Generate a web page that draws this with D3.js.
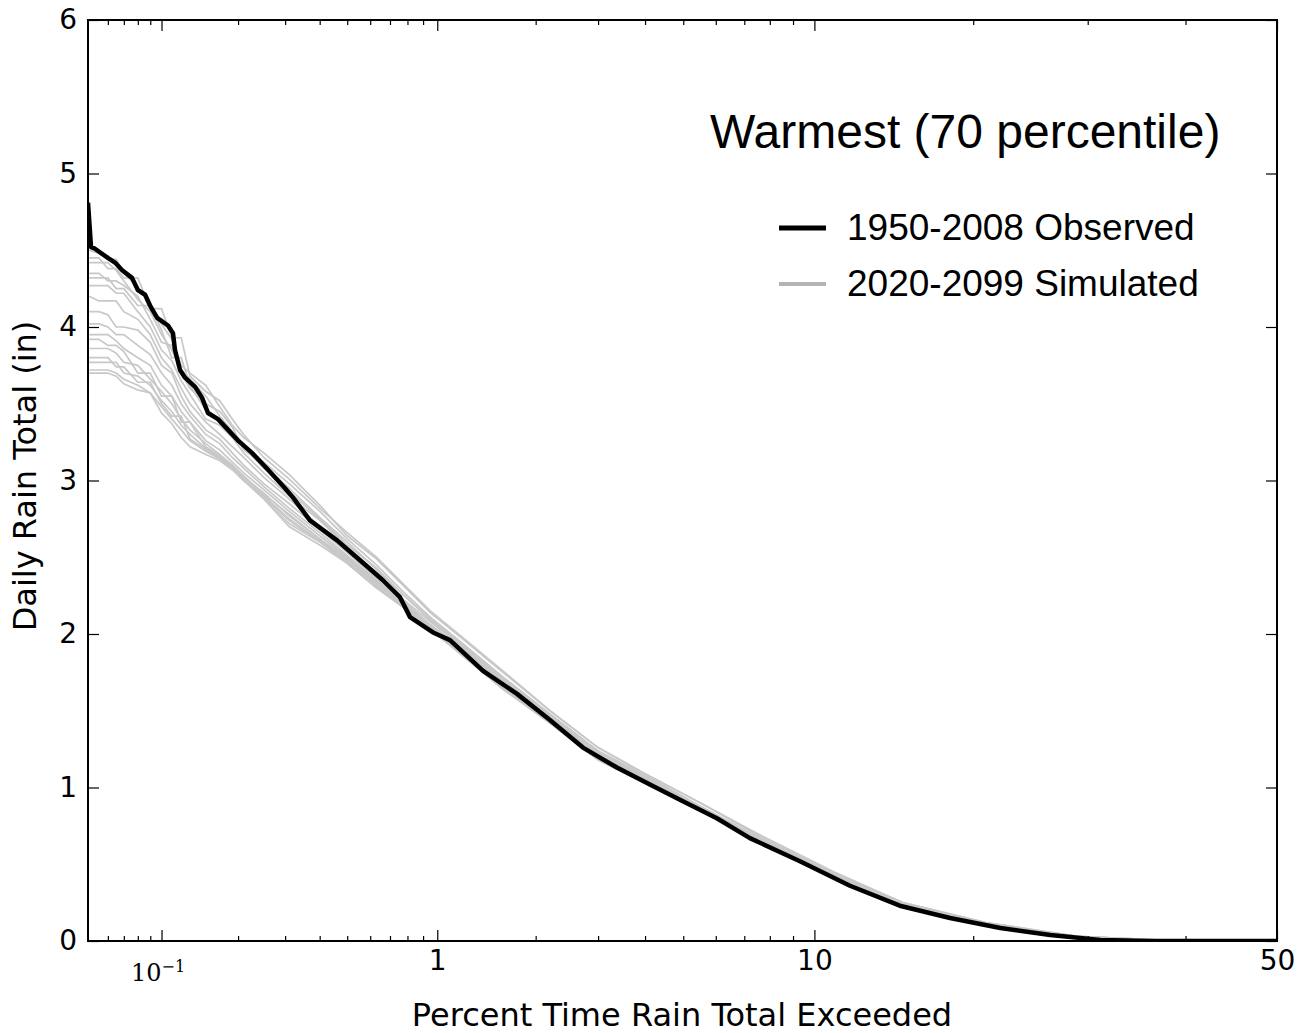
<!DOCTYPE html>
<html>
<head>
<meta charset="utf-8">
<script src="https://cdn.jsdelivr.net/npm/d3@7"></script>
<style>
  body { margin: 0; background: #fff; }
  svg { display: block; }
</style>
</head>
<body>
<svg id="chart"></svg>
<script>
const width = 1301, height = 1033;
const margin = { top: 20, right: 24, bottom: 92, left: 88 };

// observed 1950-2008 exceedance curve (percent exceeded, inches)
const obsPct = [0.0494, 0.0509, 0.0529, 0.0600, 0.0643, 0.0689, 0.0757, 0.0801, 0.0857, 0.0898,
  0.0960, 0.1062, 0.1112, 0.1133, 0.1187, 0.1243, 0.1362, 0.1450, 0.1531, 0.1675,
  0.1831, 0.1999, 0.2259, 0.2594, 0.2997, 0.3202, 0.3692, 0.4607, 0.5535, 0.6628,
  0.7557, 0.8159, 0.969, 1.098, 1.392, 1.763, 2.199, 2.725, 3.372, 4.117,
  4.989, 6.035, 7.211, 9.314, 11.84, 14.80, 18.25, 22.17, 26.50, 31.20, 36.27, 50];
const obsVal = [4.81, 4.52, 4.51, 4.45, 4.42, 4.37, 4.32, 4.24, 4.21, 4.14,
  4.06, 4.01, 3.96, 3.85, 3.72, 3.67, 3.61, 3.54, 3.44, 3.40,
  3.33, 3.26, 3.18, 3.07, 2.95, 2.89, 2.74, 2.61, 2.48, 2.35,
  2.24, 2.11, 2.01, 1.96, 1.76, 1.61, 1.44, 1.26, 1.13, 1.02,
  0.91, 0.80, 0.67, 0.52, 0.36, 0.23, 0.15, 0.085, 0.039, 0.007, 0, 0];

// simulated 2020-2099 runs, all sampled at the same percents
const simPct = [0.05, 0.055, 0.06, 0.065, 0.07, 0.08, 0.09, 0.1, 0.11, 0.12,
  0.13, 0.15, 0.17, 0.19, 0.21, 0.25, 0.31, 0.4, 0.5, 0.63,
  0.78, 0.95, 1.2, 1.6, 2.2, 3, 4, 5.5, 7.5, 11,
  15, 21, 29, 38, 50];
const simRuns = [
  [4.50, 4.48, 4.44, 4.44, 4.35, 4.26, 4.15, 4.02, 3.92, 3.75, 3.70, 3.62, 3.48, 3.36, 3.28, 3.18, 3.04, 2.84, 2.64, 2.49, 2.31, 2.14, 1.97, 1.75, 1.50, 1.26, 1.09, 0.90, 0.69, 0.44, 0.25, 0.12, 0.03, 0.004, 0],
  [4.45, 4.45, 4.38, 4.38, 4.32, 4.32, 4.12, 4.12, 3.93, 3.93, 3.68, 3.58, 3.52, 3.40, 3.30, 3.15, 3.01, 2.82, 2.66, 2.50, 2.32, 2.15, 1.98, 1.76, 1.50, 1.26, 1.09, 0.90, 0.70, 0.45, 0.25, 0.12, 0.03, 0.004, 0],
  [4.42, 4.42, 4.42, 4.37, 4.30, 4.18, 4.10, 3.95, 3.85, 3.72, 3.66, 3.55, 3.42, 3.32, 3.24, 3.12, 2.98, 2.80, 2.62, 2.45, 2.27, 2.11, 1.94, 1.72, 1.48, 1.24, 1.08, 0.88, 0.68, 0.43, 0.24, 0.11, 0.03, 0.004, 0],
  [4.35, 4.35, 4.30, 4.30, 4.27, 4.20, 4.05, 3.90, 3.88, 3.70, 3.60, 3.50, 3.45, 3.35, 3.20, 3.10, 2.95, 2.76, 2.60, 2.42, 2.25, 2.10, 1.93, 1.70, 1.46, 1.22, 1.06, 0.87, 0.67, 0.42, 0.23, 0.11, 0.025, 0.003, 0],
  [4.32, 4.32, 4.32, 4.25, 4.25, 4.14, 4.14, 3.98, 3.80, 3.80, 3.62, 3.46, 3.38, 3.30, 3.22, 3.08, 2.93, 2.75, 2.58, 2.43, 2.25, 2.09, 1.93, 1.71, 1.47, 1.23, 1.07, 0.87, 0.67, 0.43, 0.24, 0.11, 0.03, 0.004, 0],
  [4.27, 4.27, 4.27, 4.22, 4.22, 4.10, 4.00, 3.85, 3.78, 3.65, 3.56, 3.40, 3.36, 3.28, 3.18, 3.05, 2.90, 2.74, 2.57, 2.40, 2.22, 2.08, 1.92, 1.70, 1.45, 1.21, 1.06, 0.86, 0.66, 0.42, 0.23, 0.11, 0.025, 0.003, 0],
  [4.20, 4.17, 4.17, 4.17, 4.10, 4.05, 3.95, 3.80, 3.72, 3.60, 3.50, 3.38, 3.30, 3.22, 3.15, 3.02, 2.88, 2.70, 2.55, 2.38, 2.21, 2.06, 1.91, 1.69, 1.45, 1.21, 1.05, 0.86, 0.66, 0.42, 0.23, 0.11, 0.025, 0.003, 0],
  [4.10, 4.10, 4.08, 4.00, 4.00, 3.98, 3.90, 3.75, 3.70, 3.55, 3.45, 3.33, 3.27, 3.18, 3.10, 2.98, 2.85, 2.68, 2.53, 2.36, 2.20, 2.06, 1.90, 1.68, 1.44, 1.20, 1.05, 0.86, 0.66, 0.42, 0.23, 0.10, 0.02, 0.003, 0],
  [4.02, 4.02, 4.00, 3.95, 3.95, 3.88, 3.82, 3.70, 3.62, 3.50, 3.42, 3.30, 3.24, 3.15, 3.08, 2.96, 2.82, 2.66, 2.51, 2.35, 2.19, 2.05, 1.90, 1.68, 1.44, 1.20, 1.04, 0.86, 0.66, 0.42, 0.23, 0.10, 0.02, 0.003, 0],
  [3.95, 3.95, 3.95, 3.91, 3.86, 3.80, 3.75, 3.62, 3.55, 3.45, 3.38, 3.26, 3.20, 3.12, 3.05, 2.94, 2.80, 2.64, 2.50, 2.34, 2.19, 2.05, 1.89, 1.67, 1.44, 1.20, 1.04, 0.86, 0.66, 0.42, 0.23, 0.10, 0.02, 0.003, 0],
  [3.92, 3.92, 3.88, 3.88, 3.84, 3.70, 3.70, 3.55, 3.55, 3.38, 3.38, 3.22, 3.16, 3.10, 3.03, 2.91, 2.78, 2.62, 2.49, 2.34, 2.19, 2.05, 1.89, 1.67, 1.44, 1.20, 1.05, 0.86, 0.66, 0.42, 0.23, 0.10, 0.02, 0.003, 0],
  [3.86, 3.86, 3.86, 3.83, 3.77, 3.75, 3.66, 3.58, 3.50, 3.40, 3.33, 3.24, 3.17, 3.10, 3.02, 2.92, 2.77, 2.62, 2.48, 2.33, 2.18, 2.04, 1.88, 1.66, 1.43, 1.19, 1.04, 0.85, 0.65, 0.41, 0.22, 0.10, 0.02, 0.002, 0],
  [3.80, 3.80, 3.80, 3.74, 3.74, 3.64, 3.64, 3.50, 3.42, 3.42, 3.27, 3.20, 3.15, 3.09, 3.01, 2.90, 2.74, 2.60, 2.47, 2.31, 2.17, 2.03, 1.87, 1.65, 1.42, 1.18, 1.03, 0.85, 0.65, 0.41, 0.22, 0.10, 0.02, 0.002, 0],
  [3.77, 3.77, 3.77, 3.77, 3.70, 3.68, 3.62, 3.52, 3.45, 3.36, 3.30, 3.21, 3.15, 3.08, 3.00, 2.90, 2.75, 2.61, 2.47, 2.32, 2.18, 2.04, 1.88, 1.66, 1.43, 1.19, 1.04, 0.85, 0.65, 0.41, 0.22, 0.10, 0.02, 0.002, 0],
  [3.72, 3.72, 3.72, 3.70, 3.66, 3.62, 3.57, 3.48, 3.40, 3.33, 3.26, 3.19, 3.14, 3.08, 3.00, 2.89, 2.72, 2.60, 2.46, 2.30, 2.17, 2.03, 1.87, 1.65, 1.42, 1.18, 1.03, 0.85, 0.65, 0.41, 0.22, 0.10, 0.02, 0.002, 0],
  [3.70, 3.70, 3.70, 3.68, 3.63, 3.59, 3.57, 3.44, 3.37, 3.28, 3.22, 3.17, 3.13, 3.07, 3.00, 2.88, 2.70, 2.58, 2.46, 2.30, 2.17, 2.03, 1.86, 1.64, 1.42, 1.18, 1.03, 0.85, 0.65, 0.41, 0.22, 0.10, 0.02, 0.002, 0]
];

const xDomain = [0.0494, 50];
const yDomain = [0, 6];
const yTicks = [0, 1, 2, 3, 4, 5, 6];
const xMajor = [0.1, 1, 10, 50];
const xMajorLabels = ['10', '1', '10', '50'];
const xMinor = [0.06, 0.07, 0.08, 0.09, 0.2, 0.3, 0.4, 0.5, 0.6, 0.7, 0.8, 0.9,
  2, 3, 4, 5, 6, 7, 8, 9, 20, 30, 40];

const title = 'Warmest (70 percentile)';
const seriesNames = ['1950-2008 Observed', '2020-2099 Simulated'];

// inverse normal cdf (Acklam) for the probability axis
const probit = p => {
  const a = [-3.969683028665376e+01, 2.209460984245205e+02, -2.759285104469687e+02, 1.383577518672690e+02, -3.066479806614716e+01, 2.506628277459239e+00];
  const b = [-5.447609879822406e+01, 1.615858368580409e+02, -1.556989798598866e+02, 6.680131188771972e+01, -1.328068155288572e+01];
  const c = [-7.784894002430293e-03, -3.223964580411365e-01, -2.400758277161838e+00, -2.549671627584680e+00, 4.374664141464968e+00, 2.938163982698783e+00];
  const d = [7.784695709041462e-03, 3.224671290700398e-01, 2.445134137142996e+00, 3.754408661907416e+00];
  const lo = 0.02425;
  if (p < lo) {
    const q = Math.sqrt(-2 * Math.log(p));
    return (((((c[0] * q + c[1]) * q + c[2]) * q + c[3]) * q + c[4]) * q + c[5]) / ((((d[0] * q + d[1]) * q + d[2]) * q + d[3]) * q + 1);
  }
  if (p <= 1 - lo) {
    const q = p - 0.5, r = q * q;
    return (((((a[0] * r + a[1]) * r + a[2]) * r + a[3]) * r + a[4]) * r + a[5]) * q / (((((b[0] * r + b[1]) * r + b[2]) * r + b[3]) * r + b[4]) * r + 1);
  }
  const q = Math.sqrt(-2 * Math.log(1 - p));
  return -(((((c[0] * q + c[1]) * q + c[2]) * q + c[3]) * q + c[4]) * q + c[5]) / ((((d[0] * q + d[1]) * q + d[2]) * q + d[3]) * q + 1);
};
const zOf = pct => probit(pct / 100);

const iw = width - margin.left - margin.right;
const ih = height - margin.top - margin.bottom;

const svg = d3.select('#chart').attr('width', width).attr('height', height)
  .attr('viewBox', `0 0 ${width} ${height}`);

const g = svg.append('g').attr('transform', `translate(${margin.left},${margin.top})`);

// scales: x is linear in normal quantile of the exceedance percent
const zScale = d3.scaleLinear().domain(xDomain.map(zOf)).range([0, iw]);
const x = pct => zScale(zOf(pct));
const y = d3.scaleLinear().domain(yDomain).range([ih, 0]);

g.append('defs').append('clipPath').attr('id', 'plotClip')
  .append('rect').attr('width', iw).attr('height', ih);

const plot = g.append('g').attr('clip-path', 'url(#plotClip)');

// simulated runs
const simLine = d3.line()
  .x(d => x(d[0]))
  .y(d => y(d[1]));

plot.selectAll('.sim')
  .data(simRuns)
  .enter()
  .append('path')
  .attr('class', 'sim')
  .attr('fill', 'none')
  .attr('stroke', '#c8c8c8')
  .attr('stroke-width', 1.7)
  .attr('d', run => simLine(simPct.map((p, i) => [p, run[i]])));

// observed
const obsLine = d3.line().x(d => x(d[0])).y(d => y(d[1]));
plot.append('path')
  .attr('fill', 'none')
  .attr('stroke', '#000')
  .attr('stroke-width', 4.5)
  .attr('stroke-linejoin', 'round')
  .attr('d', obsLine(obsPct.map((p, i) => [p, obsVal[i]])));

// axes, ticks pointing inward on all four sides
const tickFont = '"DejaVu Sans", sans-serif';
const styleAxis = sel => {
  sel.select('.domain').remove();
  sel.selectAll('.tick line').attr('stroke', '#000').attr('stroke-width', 1.2);
  sel.selectAll('.tick text').attr('fill', '#000').style('font-family', tickFont).style('font-size', '28px');
};

const bottom = g.append('g').attr('transform', `translate(0,${ih})`)
  .call(d3.axisBottom(zScale).tickValues(xMajor.map(zOf)).tickSize(-11).tickPadding(9)
    .tickFormat((d, i) => xMajorLabels[i]))
  .call(styleAxis);

// first label is written as 10^-1 in a math style font
bottom.selectAll('.tick text').filter((d, i) => i === 0).each(function () {
  const t = d3.select(this).text(null)
    .attr('x', -4)
    .style('font-family', '"DejaVu Serif", "Liberation Serif", serif')
    .style('font-size', '24px')
    .attr('dy', '1.3em');
  t.append('tspan').text('10');
  t.append('tspan').attr('dy', '-0.55em').style('font-size', '16px').text('\u22121');
});

g.append('g').attr('transform', `translate(0,${ih})`)
  .call(d3.axisBottom(zScale).tickValues(xMinor.map(zOf)).tickSize(-5).tickFormat(''))
  .call(styleAxis);
g.append('g')
  .call(d3.axisTop(zScale).tickValues(xMajor.map(zOf)).tickSize(-11).tickFormat(''))
  .call(styleAxis);
g.append('g')
  .call(d3.axisTop(zScale).tickValues(xMinor.map(zOf)).tickSize(-5).tickFormat(''))
  .call(styleAxis);

g.append('g')
  .call(d3.axisLeft(y).tickValues(yTicks).tickSize(-11).tickPadding(11).tickFormat(d3.format('d')))
  .call(styleAxis);
g.append('g').attr('transform', `translate(${iw},0)`)
  .call(d3.axisRight(y).tickValues(yTicks).tickSize(-11).tickFormat(''))
  .call(styleAxis);

// frame
g.append('rect')
  .attr('width', iw).attr('height', ih)
  .attr('fill', 'none').attr('stroke', '#000').attr('stroke-width', 2);

// axis titles
svg.append('text')
  .attr('x', 682).attr('y', 1026)
  .attr('text-anchor', 'middle')
  .style('font-family', tickFont).style('font-size', '32px')
  .text('Percent Time Rain Total Exceeded');

svg.append('text')
  .attr('transform', `translate(36,476) rotate(-90)`)
  .attr('text-anchor', 'middle')
  .style('font-family', tickFont).style('font-size', '32px')
  .text('Daily Rain Total (in)');

// title inside the plot
svg.append('text')
  .attr('x', 710).attr('y', 148)
  .style('font-family', '"Liberation Sans", Arial, sans-serif').style('font-size', '48px')
  .text(title);

// legend
const legend = svg.append('g').attr('transform', 'translate(779,228)');
const legendStyles = [{ stroke: '#000', w: 5 }, { stroke: '#b4b4b4', w: 4 }];
legend.selectAll('g')
  .data(seriesNames)
  .enter()
  .append('g')
  .attr('transform', (_, i) => `translate(0,${i * 56})`)
  .each(function (name, i) {
    const row = d3.select(this);
    row.append('line').attr('x1', 0).attr('x2', 47)
      .attr('stroke', legendStyles[i].stroke).attr('stroke-width', legendStyles[i].w);
    row.append('text').attr('x', 68).attr('y', 12)
      .style('font-family', '"Liberation Sans", Arial, sans-serif').style('font-size', '37px')
      .text(name);
  });
</script>
</body>
</html>
